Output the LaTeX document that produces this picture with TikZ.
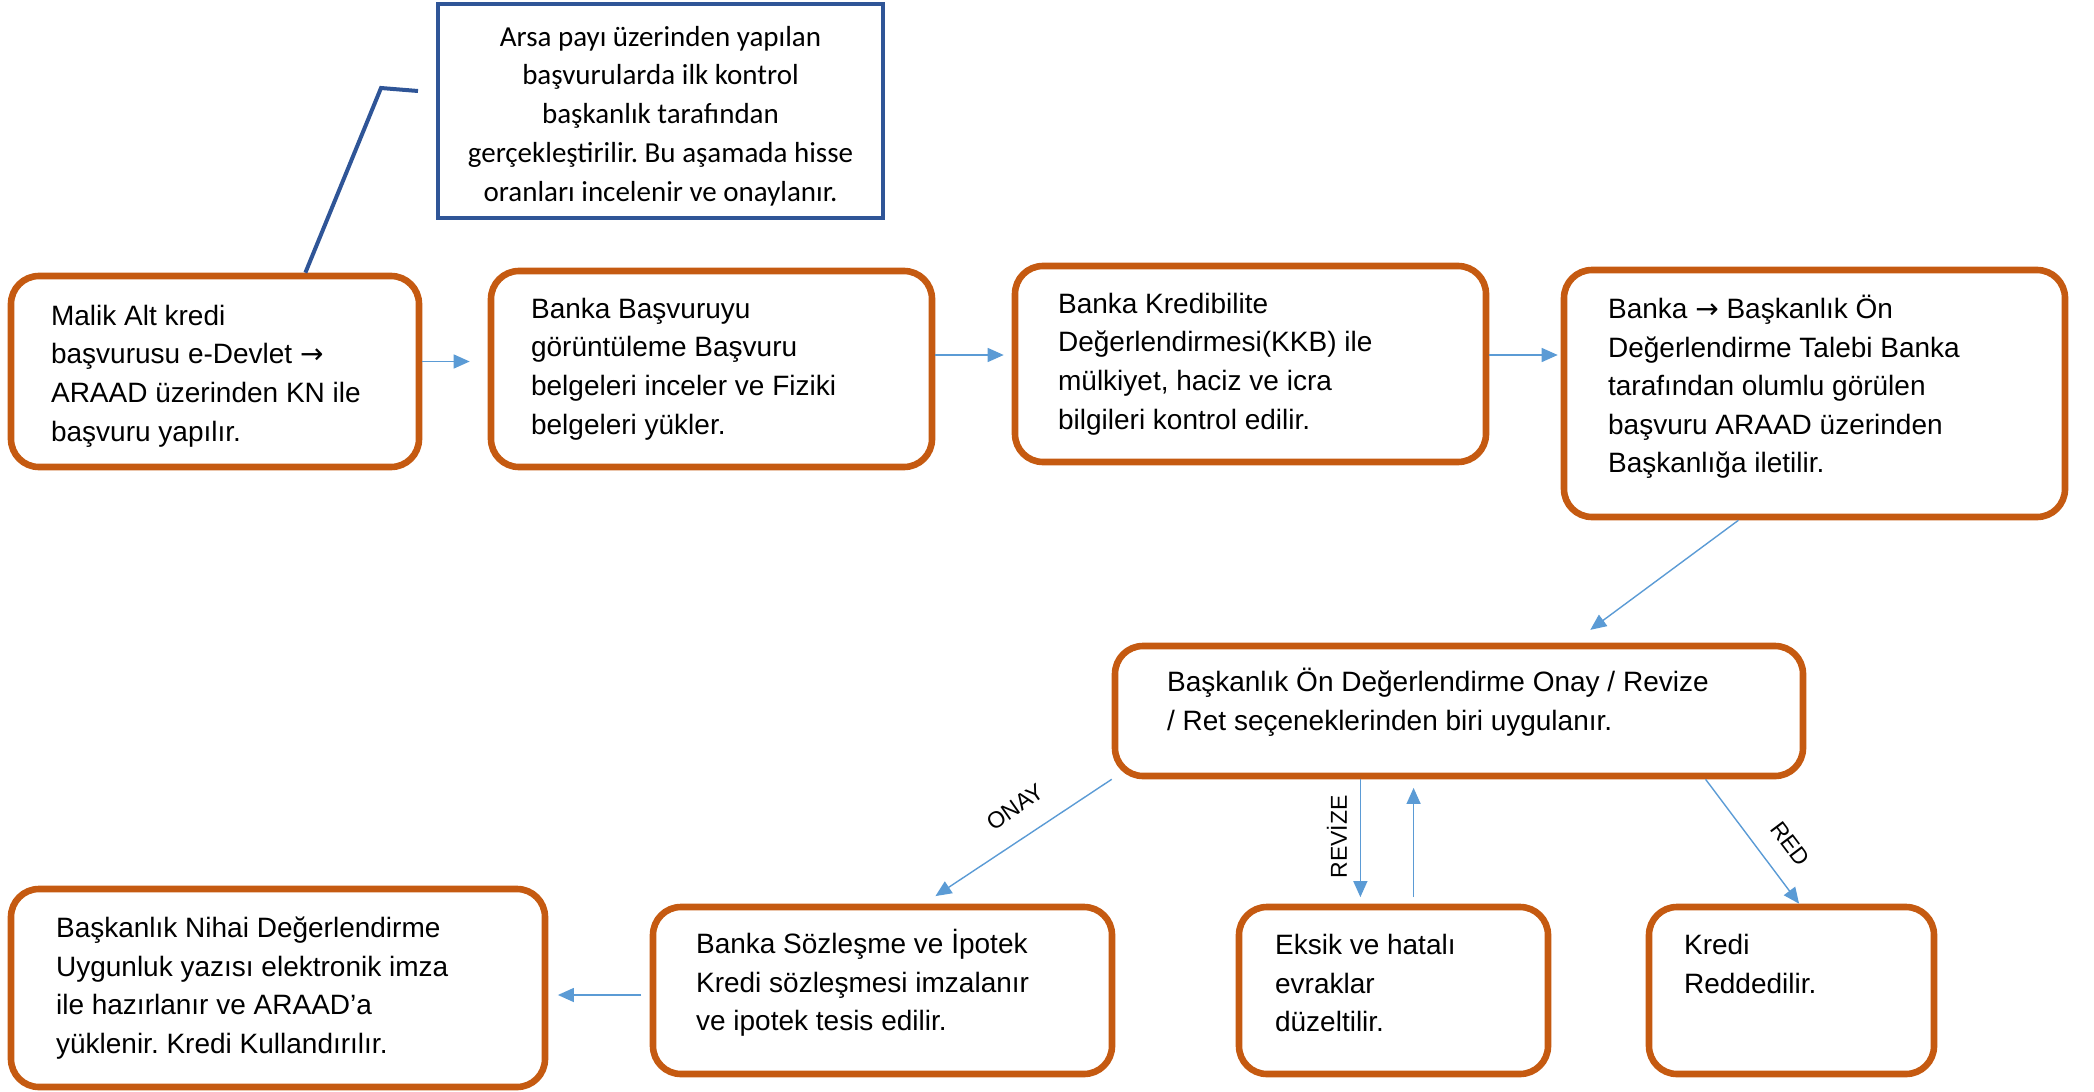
\documentclass[tikz,border=0pt]{standalone}
\usepackage{fontspec}
\setmainfont{Liberation Sans}
\newfontfamily\notefont{Carlito}
\newfontfamily\arrowfont{DejaVu Sans}
\usepackage{tikz}
\usetikzlibrary{positioning}
\usetikzlibrary{fit}
\usetikzlibrary{calc}
\usetikzlibrary{arrows.meta}

\definecolor{boxorange}{HTML}{C55A11}
\definecolor{noteblue}{HTML}{2F5597}
\definecolor{flowblue}{HTML}{5B9BD5}
\newcommand{\toarrow}{{\arrowfont →}}
\frenchspacing

\begin{document}
\begin{tikzpicture}[x=0.5pt, y=-0.5pt,
    stage/.style={draw=boxorange, line width=3.3pt, rounded corners=14pt, inner sep=0pt},
    stagetext/.style={anchor=north west, inner sep=0pt, align=left, font=\fontsize{14}{19.3}\selectfont},
    notebox/.style={draw=noteblue, line width=2.2pt, inner sep=0pt},
    notetext/.style={inner sep=0pt, align=center, font=\notefont\fontsize{14.5}{19.4}\selectfont},
    flow/.style={draw=flowblue, line width=0.7pt, -{Triangle[length=8pt, width=7pt]}},
    choice/.style={inner sep=1pt, font=\fontsize{11.5}{13}\selectfont}]
    \useasboundingbox (0,0) rectangle (2094,1092);

    % boxes
    \node[stage, fit={(11,276) (419,467)}] (b1) {};
    \node[stage, fit={(491,271) (932,467)}] (b2) {};
    \node[stage, fit={(1015,266) (1486,462)}] (b3) {};
    \node[stage, fit={(1564,270) (2065,517)}] (b4) {};
    \node[stage, fit={(1115,646) (1803,776)}] (b5) {};
    \node[stage, fit={(11,889) (545,1087)}] (b6) {};
    \node[stage, fit={(653,907) (1112,1074)}] (b7) {};
    \node[stage, fit={(1239,907) (1548,1074)}] (b8) {};
    \node[stage, fit={(1649,907) (1934,1074)}] (b9) {};

    % texts
    \node[stagetext] (t1) at ([shift={(43,32)}]b1.north west)
        {Malik Alt kredi\\başvurusu e-Devlet \toarrow\\ARAAD üzerinden KN ile\\başvuru yapılır.};
    \node[stagetext] (t2) at ([shift={(43,30)}]b2.north west)
        {Banka Başvuruyu\\görüntüleme Başvuru\\belgeleri inceler ve Fiziki\\belgeleri yükler.};
    \node[stagetext] (t3) at ([shift={(46,30)}]b3.north west)
        {Banka Kredibilite\\Değerlendirmesi(KKB) ile\\mülkiyet, haciz ve icra\\bilgileri kontrol edilir.};
    \node[stagetext] (t4) at ([shift={(47,28)}]b4.north west)
        {Banka \toarrow\ Başkanlık Ön\\Değerlendirme Talebi Banka\\tarafından olumlu görülen\\başvuru ARAAD üzerinden\\Başkanlığa iletilir.};
    \node[stagetext] (t5) at ([shift={(55,25)}]b5.north west)
        {Başkanlık Ön Değerlendirme Onay / Revize\\/ Ret seçeneklerinden biri uygulanır.};
    \node[stagetext] (t6) at ([shift={(48,31)}]b6.north west)
        {Başkanlık Nihai Değerlendirme\\Uygunluk yazısı elektronik imza\\ile hazırlanır ve ARAAD’a\\yüklenir. Kredi Kullandırılır.};
    \node[stagetext] (t7) at ([shift={(46,25)}]b7.north west)
        {Banka Sözleşme ve İpotek\\Kredi sözleşmesi imzalanır\\ve ipotek tesis edilir.};
    \node[stagetext] (t8) at ([shift={(39,30)}]b8.north west)
        {Eksik ve hatalı\\evraklar\\düzeltilir.};
    \node[stagetext] (t9) at ([shift={(38,30)}]b9.north west)
        {Kredi\\Reddedilir.};

    % note and its callout
    \node[notebox, fit={(438,4) (883,218)}] (note) {};
    \node[notetext] (notetxt) at ([yshift=-2.5pt]note.center)
        {Arsa payı üzerinden yapılan\\başvurularda ilk kontrol\\başkanlık tarafından\\gerçekleştirilir. Bu aşamada hisse\\oranları incelenir ve onaylanır.};
    \coordinate (knee) at (381,88);
    \coordinate (tail) at (418,91);
    \draw[noteblue, line width=2pt] ($(b1.north west)!0.718!(b1.north east)$) -- (knee) -- (tail);

    % flow
    \draw[flow, shorten >=9pt] ([yshift=5pt]b1.east) -- ([yshift=5pt]b1.east -| b2.west);
    \draw[flow, shorten >=4pt] ([yshift=7pt]b2.east) -- ([yshift=7pt]b2.east -| b3.west);
    \draw[flow, shorten >=1.5pt] ([yshift=4.5pt]b3.east) -- ([yshift=4.5pt]b3.east -| b4.west);
    \draw[flow, shorten >=10.8pt] ($(b4.south west)!0.35!(b4.south east)$) -- ($(b5.north west)!0.664!(b5.north east)$);
    \draw[flow, shorten >=6.9pt] (b5.south west) -- ($(b7.north west)!0.589!(b7.north east)$);
    \coordinate (revdown) at ($(b5.south west)!0.358!(b5.south east)$);
    \coordinate (revup) at ($(b5.south west)!0.4346!(b5.south east)$);
    \draw[flow, shorten >=3.3pt] (revdown) -- (revdown |- b8.north);
    \draw[flow, shorten <=3.3pt, shorten >=4.3pt] (revup |- b8.north) -- (revup);
    \draw[flow] ($(b5.south west)!0.855!(b5.south east)$) -- ($(b9.north west)!0.526!(b9.north east)$);
    \draw[flow, shorten <=4.3pt, shorten >=4.8pt] ([yshift=-2.25pt]b7.west) -- ([yshift=-2.25pt]b7.west -| b6.east);

    % labels
    \node[choice, rotate=35] (onay) at (1015,807) {ONAY};
    \node[choice, rotate=90] (revize) at (1337,837) {REVİZE};
    \node[choice, rotate=-53] (red) at (1790,844) {RED};
\end{tikzpicture}
\end{document}
